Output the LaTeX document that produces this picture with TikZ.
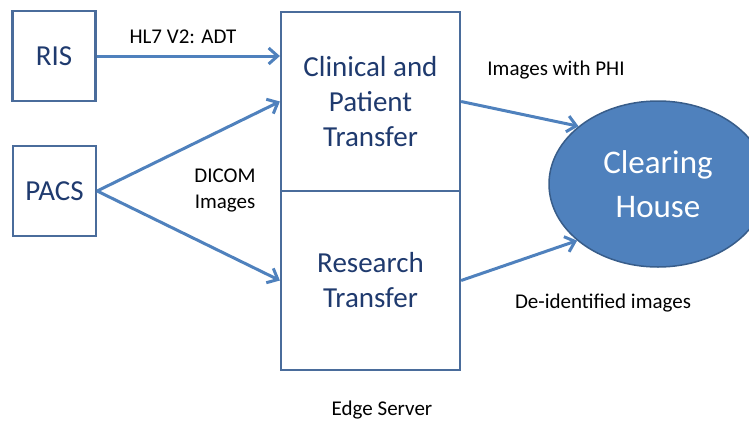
\documentclass[tikz,border=0pt]{standalone}
\usepackage{fontspec}
\setmainfont{Carlito}
\usetikzlibrary{arrows.meta,shapes.geometric}
\definecolor{boxline}{HTML}{4A6C9B}
\definecolor{arrowblue}{HTML}{4F81BD}
\definecolor{navy}{HTML}{1F3A6E}
\definecolor{ellfill}{HTML}{4F81BD}
\definecolor{ellline}{HTML}{385D8A}
\begin{document}
\begin{tikzpicture}[x=1pt,y=-1pt,
  sysbox/.style={draw=boxline, line width=2.2pt, minimum width=83pt, minimum height=90pt, inner sep=0pt, text=navy, font=\fontsize{29}{35}\selectfont},
  srvbox/.style={draw=boxline, line width=2.2pt, minimum width=179pt, minimum height=179pt, inner sep=0pt, text=navy, align=center, font=\fontsize{29}{35}\selectfont},
  hub/.style={ellipse, fill=ellfill, draw=ellline, line width=1.5pt, minimum width=218pt, minimum height=166pt, inner sep=0pt, text=white, align=center, font=\fontsize{33}{44}\selectfont},
  flow/.style={draw=arrowblue, line width=3pt, -{Straight Barb[length=9pt, width=16pt]}},
  lbl/.style={font=\fontsize{21}{26}\selectfont, align=center, inner sep=0pt}
]
\useasboundingbox (0,0) rectangle (749,421);
\clip (0,0) rectangle (749,421);
\node[sysbox] (ris) at (54,56) {RIS};
\node[sysbox] (pacs) at (54.5,191) {PACS};
\node[srvbox] (clin) at (370.5,101.5) {Clinical and\\Patient\\Transfer};
\node[srvbox] (res) at (370.5,280.5) {Research\\Transfer};
\node[hub] (ch) at (658,184) {Clearing\\House};
\node[lbl] (hl7) at (183,37) {HL7 V2: ADT};
\node[lbl] (dicom) at (225,190) {DICOM\\Images};
\node[lbl] (phi) at (556,70) {Images with PHI};
\node[lbl] (deid) at (603,303) {De-identified images};
\node[lbl] (edge) at (382,410) {Edge Server};
\draw[flow] (ris.east) -- (ris.east -| clin.west);
\draw[flow] (pacs.east) -- (clin.west);
\draw[flow] (pacs.east) -- (res.west);
\draw[flow] (clin.east) -- (ch.144);
\draw[flow] (res.east) -- (ch.215);
\end{tikzpicture}
\end{document}
